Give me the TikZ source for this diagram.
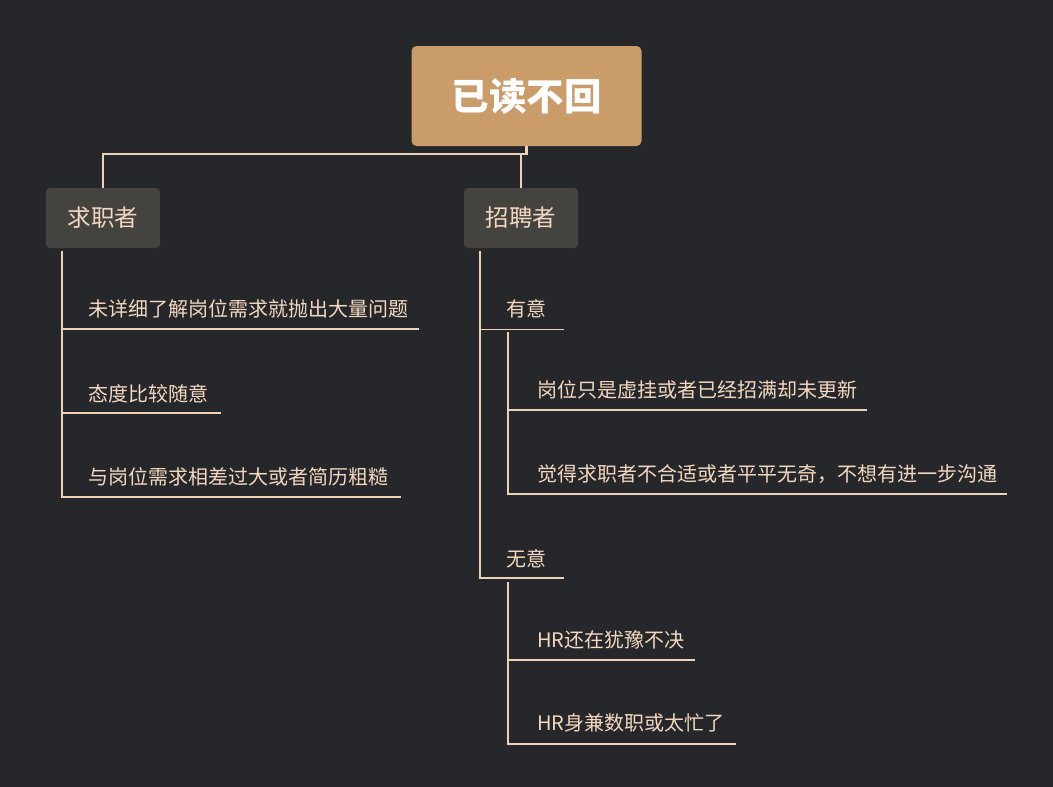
\documentclass[tikz,border=0pt]{standalone}
\usepackage{fontspec}
\setmainfont{Noto Sans CJK SC}
\definecolor{bgc}{HTML}{26272A}
\definecolor{rootc}{HTML}{C99C6A}
\definecolor{boxc}{HTML}{45433F}
\definecolor{txtc}{HTML}{F3D8C0}
\definecolor{linec}{HTML}{EED2B8}
\tikzset{
  rootbox/.style={fill=rootc, rounded corners=5pt, minimum width=230pt, minimum height=100pt, inner sep=0pt, text=white, font=\fontsize{37.5}{40}\selectfont\bfseries},
  catbox/.style={fill=boxc, rounded corners=4pt, minimum width=114pt, minimum height=60pt, inner sep=0pt, text=txtc, font=\fontsize{23.5}{28}\selectfont},
  leaf/.style={anchor=west, inner sep=0pt, text=txtc, font=\fontsize{20}{23}\selectfont},
  trunk/.style={draw=linec, line width=2.6pt},
  twig/.style={draw=linec, line width=1.8pt}
}
\begin{document}
\begin{tikzpicture}[x=1pt,y=-1pt]
\fill[bgc] (0,0) rectangle (1053,787);
\useasboundingbox (0,0) rectangle (1053,787);

% main nodes
\node[rootbox] (root) at (526.5,96) {已读不回};
\node[catbox] (seek) at (103,218) {求职者};
\node[catbox] (hire) at (521,218) {招聘者};

% trunk connectors
\coordinate (j) at (526.5,154);
\draw[trunk] (root.south) -- (j) -| (seek.north);
\draw[trunk] (hire.north) |- (j);

% left branch
\coordinate (ls) at (62,251);
\node[leaf] (l1) at (88,308.5) {未详细了解岗位需求就抛出大量问题};
\node[leaf] (l2) at (88,393.5) {态度比较随意};
\node[leaf] (l3) at (88,476.5) {与岗位需求相差过大或者简历粗糙};
\coordinate (l1u) at (419,329);
\coordinate (l2u) at (221,413);
\coordinate (l3u) at (401,497);
\draw[twig] (ls) -- (ls |- l3u) -- (l3u);
\draw[twig] (ls |- l1u) -- (l1u);
\draw[twig] (ls |- l2u) -- (l2u);

% right branch
\coordinate (rs) at (480,251);
\node[leaf] (r1) at (506,308.5) {有意};
\node[leaf] (r2) at (506,558.5) {无意};
\coordinate (r1u) at (564,329.5);
\coordinate (r2u) at (564,578);
\draw[twig] (rs) -- (rs |- r2u) -- (r2u);
\draw[twig] (rs |- r1u) -- (r1u);

% sub branch of 有意
\coordinate (s1) at (508,332);
\node[leaf] (a1) at (537,390) {岗位只是虚挂或者已经招满却未更新};
\node[leaf] (a2) at (537,474) {觉得求职者不合适或者平平无奇，不想有进一步沟通};
\coordinate (a1u) at (867,410);
\coordinate (a2u) at (1007,494);
\draw[twig] (s1) -- (s1 |- a2u) -- (a2u);
\draw[twig] (s1 |- a1u) -- (a1u);

% sub branch of 无意
\coordinate (s2) at (508,582);
\node[leaf] (b1) at (537,640) {HR还在犹豫不决};
\node[leaf] (b2) at (537,723) {HR身兼数职或太忙了};
\coordinate (b1u) at (695,660);
\coordinate (b2u) at (736,744);
\draw[twig] (s2) -- (s2 |- b2u) -- (b2u);
\draw[twig] (s2 |- b1u) -- (b1u);
\end{tikzpicture}
\end{document}
